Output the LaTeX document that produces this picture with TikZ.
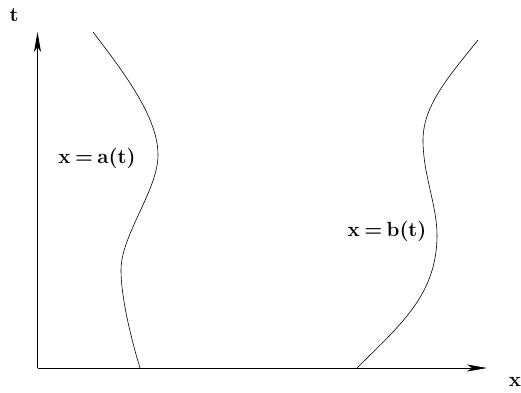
\documentclass[tikz,border=0pt]{standalone}
\usetikzlibrary{arrows.meta}
\begin{document}
\begin{tikzpicture}[x=1pt,y=-1pt,
  axis/.style={line width=0.8pt,-{Stealth[length=20pt,width=7pt,inset=5pt]}},
  curve/.style={line width=0.6pt},
  lbl/.style={inner sep=0pt,font=\fontsize{20.5}{22}\selectfont\bfseries}]
\useasboundingbox (0,0) rectangle (521,392);
\coordinate (O) at (37.5,368);
\coordinate (T) at (37.5,32);
\coordinate (X) at (487,368);
\draw[axis] (O) -- (T);
\draw[axis] (O) -- (X);
\node[lbl] (tl) at (14,15) {t};
\node[lbl] (xl) at (515,382) {x};
\coordinate (a0) at (93,32);
\coordinate (a1) at (158,155);
\coordinate (a2) at (121,270);
\coordinate (a3) at (140,368);
\draw[curve] (a0) .. controls (130,80) and (158,120) .. (a1)
  .. controls (158,190) and (121,235) .. (a2)
  .. controls (121,300) and (133,345) .. (a3);
\coordinate (b0) at (478,40);
\coordinate (b1) at (423,140);
\coordinate (b2) at (437,235);
\coordinate (b3) at (357,368);
\draw[curve] (b0) .. controls (450,75) and (423,105) .. (b1)
  .. controls (423,175) and (437,205) .. (b2)
  .. controls (437,295) and (400,325) .. (b3);
\node[lbl] (la) at (97,158) {x\hspace{0.22em}=\hspace{0.22em}a(t)};
\node[lbl] (lb) at (387,231) {x\hspace{0.22em}=\hspace{0.22em}b(t)};
\end{tikzpicture}
\end{document}
